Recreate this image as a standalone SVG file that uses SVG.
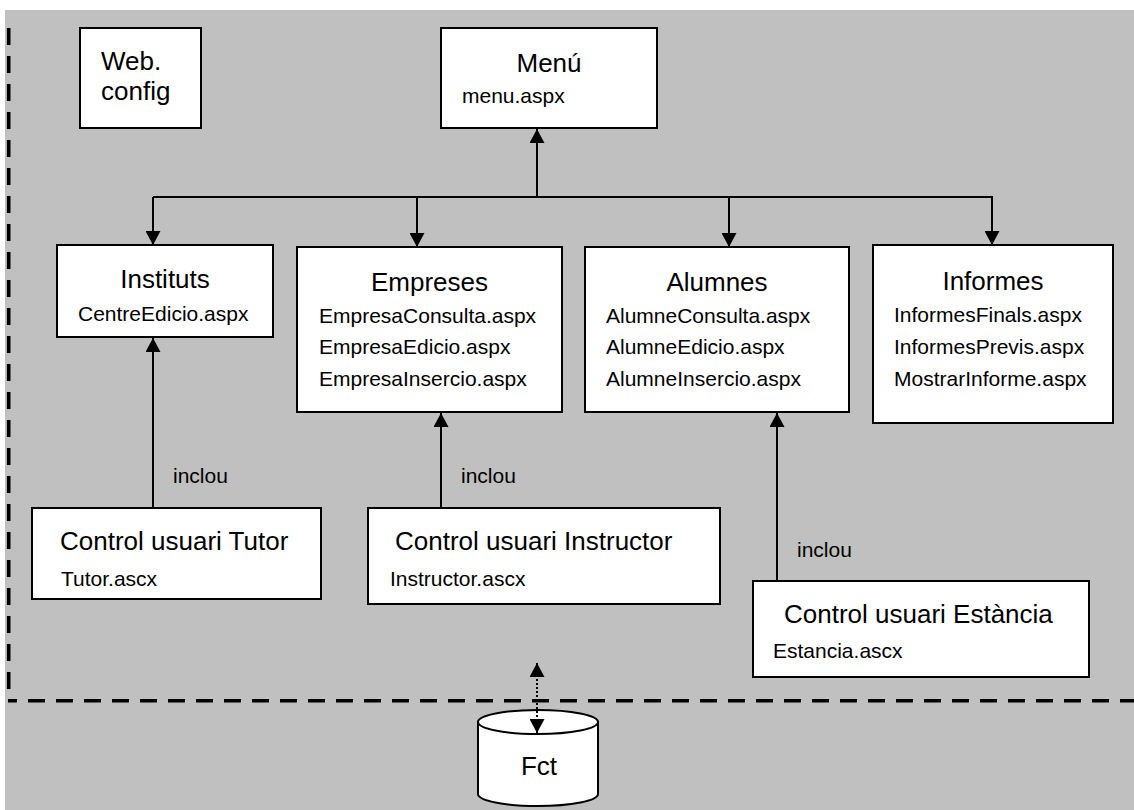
<svg xmlns="http://www.w3.org/2000/svg" width="1134" height="810" viewBox="0 0 1134 810">
<style>
.box{fill:#fff;stroke:#000;stroke-width:2}
.t{font-family:"Liberation Sans",Arial,sans-serif;font-size:26px;fill:#000}
.s{font-family:"Liberation Sans",Arial,sans-serif;font-size:21px;fill:#000}
.ln{fill:none;stroke:#000;stroke-width:2}
.dot{fill:none;stroke:#000;stroke-width:2;stroke-dasharray:2 2}
.dash{fill:none;stroke:#000;stroke-width:3.6;stroke-dasharray:17 11}
</style>
<defs>
<marker id="ah" markerUnits="userSpaceOnUse" markerWidth="15" markerHeight="15" refX="14" refY="7.5" orient="auto-start-reverse">
<path d="M0,0 L14,7.5 L0,15 z" fill="#000"/>
</marker>
</defs>
<rect x="0" y="0" width="1134" height="810" fill="#fff"/>
<rect x="5" y="10" width="1129" height="800" fill="#c0c0c0"/>
<line class="dash" x1="8.7" y1="28" x2="8.7" y2="689"/>
<line class="dash" x1="8" y1="700.8" x2="1134" y2="700.8" stroke-dashoffset="8"/>

<g id="webconfig">
<rect class="box" x="80" y="28" width="121" height="100"/>
<text class="t" x="101" y="70">Web.</text>
<text class="t" x="101" y="100">config</text>
</g>

<g id="menu">
<rect class="box" x="441" y="28" width="216" height="100"/>
<text class="t" x="549" y="72" text-anchor="middle">Menú</text>
<text class="s" x="462" y="103">menu.aspx</text>
</g>

<g id="instituts">
<rect class="box" x="57" y="245" width="216" height="92"/>
<text class="t" x="165" y="288" text-anchor="middle">Instituts</text>
<text class="s" x="78" y="321">CentreEdicio.aspx</text>
</g>

<g id="empreses">
<rect class="box" x="297" y="247" width="265" height="165"/>
<text class="t" x="429.5" y="291" text-anchor="middle">Empreses</text>
<text class="s" x="319" y="323">EmpresaConsulta.aspx</text>
<text class="s" x="319" y="354">EmpresaEdicio.aspx</text>
<text class="s" x="319" y="386">EmpresaInsercio.aspx</text>
</g>

<g id="alumnes">
<rect class="box" x="585" y="247" width="264" height="165"/>
<text class="t" x="717" y="291" text-anchor="middle">Alumnes</text>
<text class="s" x="606" y="323">AlumneConsulta.aspx</text>
<text class="s" x="606" y="354">AlumneEdicio.aspx</text>
<text class="s" x="606" y="386">AlumneInsercio.aspx</text>
</g>

<g id="informes">
<rect class="box" x="873" y="245" width="240" height="178"/>
<text class="t" x="993" y="290" text-anchor="middle">Informes</text>
<text class="s" x="894" y="322">InformesFinals.aspx</text>
<text class="s" x="894" y="354">InformesPrevis.aspx</text>
<text class="s" x="894" y="386">MostrarInforme.aspx</text>
</g>

<g id="tutor">
<rect class="box" x="32" y="508" width="289" height="91"/>
<text class="t" x="60" y="550">Control usuari Tutor</text>
<text class="s" x="61" y="586">Tutor.ascx</text>
</g>

<g id="instructor">
<rect class="box" x="368" y="508" width="352" height="96"/>
<text class="t" x="395" y="550">Control usuari Instructor</text>
<text class="s" x="390" y="586">Instructor.ascx</text>
</g>

<g id="estancia">
<rect class="box" x="753" y="581" width="336" height="96"/>
<text class="t" x="784" y="623">Control usuari Estància</text>
<text class="s" x="773" y="658">Estancia.ascx</text>
</g>

<g id="fct">
<path d="M478,722 L478,794 A60,12 0 0 0 598,794 L598,722" fill="#fff" stroke="#000" stroke-width="2"/>
<ellipse cx="538" cy="722" rx="60" ry="12" fill="#fff" stroke="#000" stroke-width="2"/>
<text class="t" x="539" y="775" text-anchor="middle">Fct</text>
</g>

<g id="connectors">
<line class="ln" x1="537" y1="197" x2="537" y2="129" marker-end="url(#ah)"/>
<line class="ln" x1="153" y1="197" x2="992" y2="197"/>
<line class="ln" x1="153" y1="197" x2="153" y2="245" marker-end="url(#ah)"/>
<line class="ln" x1="417" y1="197" x2="417" y2="247" marker-end="url(#ah)"/>
<line class="ln" x1="729" y1="197" x2="729" y2="247" marker-end="url(#ah)"/>
<line class="ln" x1="992" y1="196" x2="992" y2="245" marker-end="url(#ah)"/>
<line class="ln" x1="153" y1="508" x2="153" y2="338" marker-end="url(#ah)"/>
<line class="ln" x1="441" y1="508" x2="441" y2="413" marker-end="url(#ah)"/>
<line class="ln" x1="777" y1="581" x2="777" y2="413" marker-end="url(#ah)"/>
<line class="dot" x1="537" y1="663" x2="537" y2="733" marker-start="url(#ah)" marker-end="url(#ah)"/>
<text class="s" x="173" y="483">inclou</text>
<text class="s" x="461" y="483">inclou</text>
<text class="s" x="797" y="557">inclou</text>
</g>
</svg>
